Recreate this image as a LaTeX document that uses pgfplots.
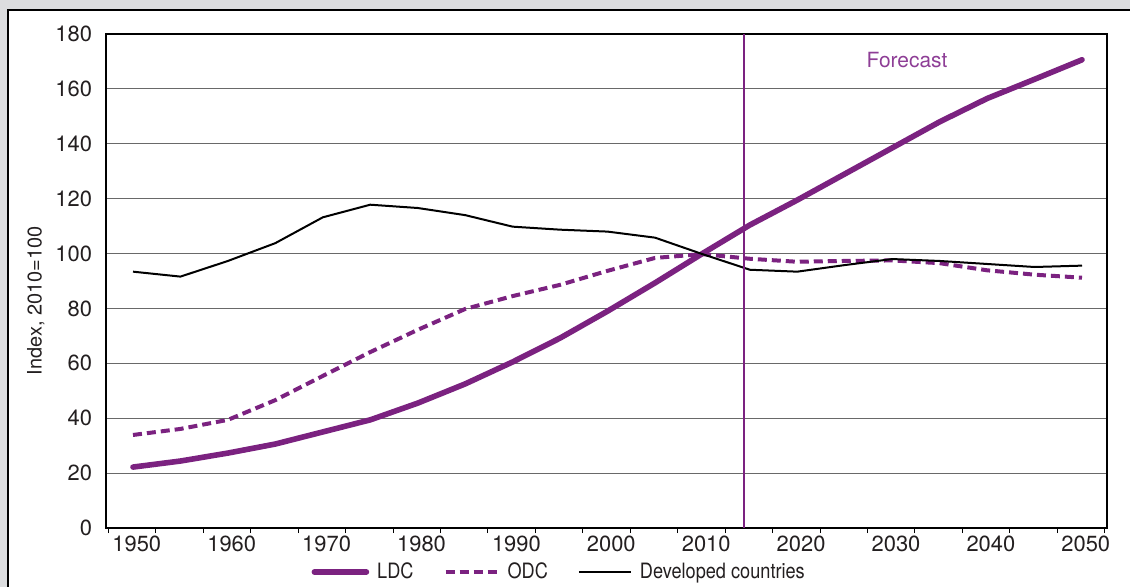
\documentclass[border=0pt]{standalone}
\usepackage{fontspec}
\setmainfont{TeX Gyre Heros}
\newfontfamily\legfont[FakeStretch=0.86]{TeX Gyre Heros}
\usepackage{pgfplots}
\usepackage{pgfplotstable}
\pgfplotsset{compat=1.18}

\definecolor{bgframe}{RGB}{220,221,223}
\definecolor{ldc}{RGB}{123,34,128}
\definecolor{fcast}{RGB}{142,62,150}
\definecolor{gridc}{RGB}{105,105,105}
\definecolor{txt}{RGB}{35,31,32}

% index, 2010=100
\pgfplotstableread{
year ldc odc dev
1950 22.2 33.9 93.4
1955 24.4 36.1 91.6
1960 27.3 39.4 97.3
1965 30.6 46.6 103.8
1970 35.0 55.4 113.2
1975 39.4 64.1 117.8
1980 45.5 72.2 116.6
1985 52.5 79.8 114.0
1990 60.5 84.5 109.8
1995 69.2 88.6 108.7
2000 79.0 93.7 108.0
2005 89.3 98.4 105.8
2010 100.0 99.8 99.8
2015 110.4 98.1 94.1
2020 119.5 97.0 93.4
2025 129.0 97.3 95.8
2030 138.5 97.5 98.0
2035 148.0 96.5 97.3
2040 156.5 93.9 96.2
2045 163.5 92.3 95.1
2050 170.6 91.2 95.6
}\datatable

\begin{document}
\begin{tikzpicture}
\useasboundingbox (0,0) rectangle (565bp,293.5bp);
\clip (0,0) rectangle (565bp,293.5bp);
\fill[bgframe] (0,0) rectangle (565bp,293.5bp);
\filldraw[fill=white,draw=black,line width=0.6bp] (4bp,-5bp) rectangle (570bp,288.5bp);
\begin{axis}[
    at={(53bp,29.5bp)}, anchor=south west,
    scale only axis, width=500.5bp, height=247bp,
    xmin=1947.155, xmax=2052.634,
    ymin=0, ymax=180,
    ytick={0,20,...,180},
    ymajorgrids,
    grid style={gridc, line width=0.6bp},
    axis line style={black, line width=0.6bp},
    xtick={1950.4,1960.4,1970.4,1980.4,1990.4,2000.4,2010.4,2020.4,2030.4,2040.4,2050.4},
    xticklabels={1950,1960,1970,1980,1990,2000,2010,2020,2030,2040,2050},
    minor xtick={1947.4,1952.4,1957.4,1962.4,1967.4,1972.4,1977.4,1982.4,1987.4,1992.4,1997.4,2002.4,2007.4,2012.4,2017.4,2022.4,2027.4,2032.4,2037.4,2042.4,2047.4,2052.4},
    major tick length=0pt,
    minor tick length=2.5bp,
    tick align=outside,
    xtick pos=bottom, ytick pos=left,
    minor tick style={black, line width=0.5bp},
    ticklabel style={font=\fontsize{11}{13}\selectfont, text=txt},
    /pgf/number format/assume math mode=true,
    yticklabel style={xshift=-3.5bp},
    xticklabel style={yshift=-0.5bp},
    ylabel={Index, 2010=100},
    ylabel style={at={(axis description cs:-0.07,0.46)}, anchor=center, text=txt, font=\fontsize{10}{12}\selectfont},
    legend columns=-1,
    legend style={at={(axis description cs:0.205,-0.089)}, anchor=west,
        draw=none, fill=none, inner sep=0pt,
        font=\legfont\fontsize{10.6}{12}\selectfont, text=txt,
        nodes={inner sep=1.5bp},
        /tikz/every odd column/.append style={column sep=2.5bp},
        /tikz/every even column/.append style={column sep=13.5bp}},
    legend image code/.code={\draw[#1] (0bp,0bp) -- (26bp,0bp);},
]
\addplot[ldc, line width=2.8bp, line cap=round, line join=round] table[x=year,y=ldc]{\datatable};
\addlegendentry{LDC}
\addplot[ldc, line width=2bp, dash pattern=on 4.5bp off 2.5bp, line join=round] table[x=year,y=odc]{\datatable};
\addlegendentry{ODC}
\addplot[black, line width=1bp, line join=round] table[x=year,y=dev]{\datatable};
\addlegendentry{Developed countries}
\addplot[ldc, line width=1bp, forget plot] coordinates {(2014.38,0) (2014.38,180)};
\node[fcast, font=\fontsize{10.5}{12}\selectfont] at (axis cs:2031.56,170.5) {Forecast};
\end{axis}
\end{tikzpicture}
\end{document}
